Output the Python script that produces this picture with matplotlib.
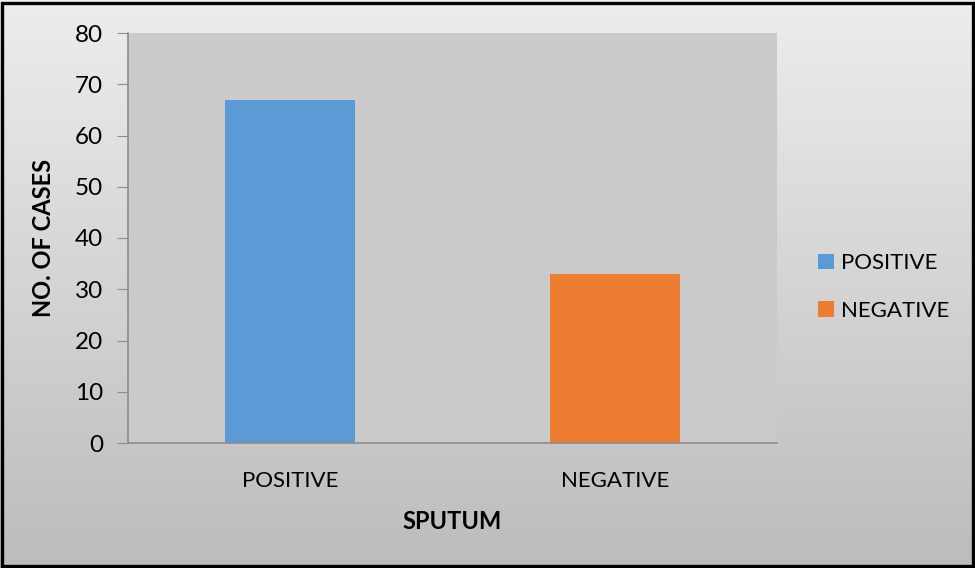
import numpy as np
import matplotlib.pyplot as plt
from matplotlib.patches import Rectangle
from matplotlib.colors import LinearSegmentedColormap

categories = ["POSITIVE", "NEGATIVE"]
cases = [67, 33]
colors = ["#5b9bd5", "#ed7d31"]

plt.rcParams['font.family'] = ['Lato', 'DejaVu Sans']

fig = plt.figure(figsize=(9.75, 5.68), dpi=100)

# light grey vertical gradient behind everything
bg = fig.add_axes([0, 0, 1, 1], zorder=-10)
grad = np.linspace(0, 1, 256).reshape(-1, 1)
bg.imshow(grad, aspect='auto', cmap=LinearSegmentedColormap.from_list('bg', ["#ededed", "#bcbcbc"]),
          extent=[0, 1, 0, 1], origin='upper')
bg.set_axis_off()
fig.patches.append(Rectangle((0.002, 0.003), 0.996, 0.992, transform=fig.transFigure,
                             fill=False, edgecolor='black', linewidth=2.4))

ax = fig.add_axes([128 / 975, 1 - 443 / 568, 649 / 975, 410 / 568])
ax.set_facecolor("#cacaca")
x = np.arange(len(categories))
ax.bar(x, cases, width=0.4, color=colors, label=categories, zorder=2)
ax.set_xlim(-0.5, 1.5)
ax.set_ylim(0, 80)
ax.set_yticks(range(0, 81, 10))
ax.set_xticks(x)
ax.set_xticklabels(categories, fontsize=16)
ax.tick_params(axis='y', labelsize=17.5, length=8, color='#8c8c8c', pad=10)
ax.tick_params(axis='x', length=0, pad=20)
for s in ['top', 'right']:
    ax.spines[s].set_visible(False)
ax.spines['left'].set_color('#8c8c8c')
ax.spines['bottom'].set_color('#8c8c8c')
ax.spines['left'].set_linewidth(1.2)
ax.spines['bottom'].set_linewidth(1.2)

ax.set_ylabel("NO. OF CASES", fontsize=17, fontweight='bold', labelpad=14)
ax.set_xlabel("SPUTUM", fontsize=17, fontweight='bold', labelpad=14)

fig.legend(loc='center left', bbox_to_anchor=(798 / 975, 1 - 287 / 568), frameon=False,
           fontsize=16, handlelength=0.7, handleheight=0.7, handletextpad=0.35,
           labelspacing=1.25)

fig.savefig("out.png", dpi=100)
